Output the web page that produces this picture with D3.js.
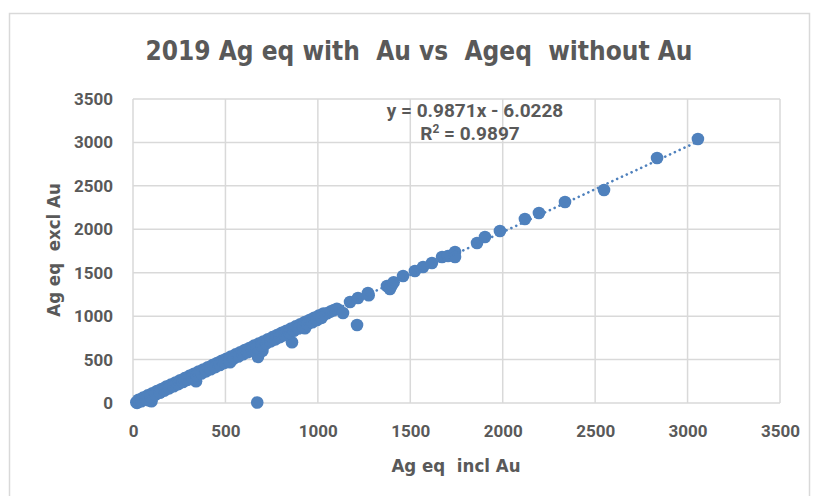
<!DOCTYPE html>
<html>
<head>
<meta charset="utf-8">
<script src="https://cdn.jsdelivr.net/npm/d3@7"></script>
<style>
  html, body { margin: 0; padding: 0; background: #fff; }
  svg { display: block; }
  text { fill: #595959; font-family: "DejaVu Sans Condensed", Roboto, sans-serif; }
</style>
</head>
<body>
<script>
// Ag equivalent grades, 2019 samples: including gold (x) vs excluding gold (y)
const agInclAu = [18,22,28,35,40,45,52,58,62,68,72,78,82,88,92,98,100,85,105,110,116,120,126,130,136,140,146,150,156,160,166,172,178,184,190,196,202,208,215,222,228,235,242,250,256,262,270,276,284,290,298,305,312,320,328,334,341,345,352,360,368,375,382,390,398,405,412,420,428,435,442,450,458,465,472,480,488,495,502,510,518,525,530,538,546,555,562,570,580,590,600,610,620,632,645,658,670,676,672,682,695,700,708,720,732,745,758,770,785,798,812,826,840,855,860,870,885,900,912,928,930,945,960,975,990,1005,1020,1035,1050,1068,1085,1103,1136,1174,1212,1217,1271,1275,1374,1390,1401,1410,1461,1525,1569,1617,1672,1704,1742,1742,1861,1904,1985,2120,2196,2337,2548,2835,3056,
  30,55,80,105,130,155,180,205,230,255,280,305,330,355,380,405,430,455,480,505,530,555,580,605,630,655,680,705,730,755,780,805,830,855,880,905,930,955,980,1005,1030,
  45,70,95,120,145,170,195,220,245,270,295,320,345,370,395,420,445,470,495,520,545,570,595,620,645,670,695,720,745,770,795,820,845,870,895,920,945,970,995,1020];
const agExclAu = [8,2,20,30,25,40,48,45,60,58,70,62,80,75,90,85,20,30,100,95,112,105,122,118,132,128,142,140,150,148,162,165,172,180,185,190,198,200,210,215,222,230,236,244,250,255,264,270,276,285,290,300,305,312,322,326,250,338,345,352,360,368,374,382,390,396,404,412,420,428,432,442,450,456,464,470,480,486,492,498,508,470,520,528,536,545,552,560,570,580,590,600,610,620,632,646,660,530,5,672,684,600,696,708,720,732,745,755,772,786,800,812,826,842,700,856,872,886,896,912,860,930,945,958,975,990,1005,1020,1034,1052,1068,1085,1036,1163,898,1209,1266,1240,1347,1312,1358,1390,1462,1520,1566,1612,1681,1692,1738,1681,1842,1911,1980,2118,2187,2314,2452,2820,3039,
  38,62,88,112,138,161,188,212,236,262,286,312,336,362,386,411,436,460,486,510,535,560,585,610,634,660,684,708,734,758,783,808,832,858,882,906,932,956,982,1006,1030,
  20,45,70,94,118,143,168,192,217,241,266,290,315,339,364,388,413,437,462,487,511,536,561,585,610,635,659,684,709,733,758,782,807,832,857,881,906,930,955,980];

// Linear trend fitted to the samples
const trendSlope = 0.9871;
const trendIntercept = -6.0228;
const trendR2 = 0.9897;

const axisTicks = [0, 500, 1000, 1500, 2000, 2500, 3000, 3500];

const W = 813, H = 496;
const plot = { left: 133, right: 780, top: 99, bottom: 403 };
const blue = "#4f81bd";
const grid = "#d9d9d9";

const svg = d3.select("body").append("svg").attr("width", W).attr("height", H);

// chart frame
svg.append("rect").attr("x", 9.5).attr("y", 13.5).attr("width", 800).attr("height", 500)
  .attr("fill", "#fff").attr("stroke", "#d9d9d9").attr("stroke-width", 1.5);

const x = d3.scaleLinear().domain([0, 3500]).range([plot.left, plot.right]);
const y = d3.scaleLinear().domain([0, 3500]).range([plot.bottom, plot.top]);

// gridlines
const g = svg.append("g");
g.selectAll("line.h").data(axisTicks).join("line")
  .attr("x1", plot.left).attr("x2", plot.right)
  .attr("y1", d => y(d)).attr("y2", d => y(d))
  .attr("stroke", grid).attr("stroke-width", 1.5);
g.selectAll("line.v").data(axisTicks).join("line")
  .attr("y1", plot.top).attr("y2", plot.bottom)
  .attr("x1", d => x(d)).attr("x2", d => x(d))
  .attr("stroke", grid).attr("stroke-width", 1.5);

// axes (labels only)
const xAxis = svg.append("g").attr("transform", `translate(0,${plot.bottom})`)
  .call(d3.axisBottom(x).tickValues(axisTicks).tickSize(0).tickPadding(22).tickFormat(d3.format("d")));
const yAxis = svg.append("g").attr("transform", `translate(${plot.left},0)`)
  .call(d3.axisLeft(y).tickValues(axisTicks).tickSize(0).tickPadding(20).tickFormat(d3.format("d")));
[xAxis, yAxis].forEach(a => {
  a.select(".domain").remove();
  a.selectAll("text").attr("font-size", 17).attr("font-weight", "bold")
    .style("font-family", "Roboto, sans-serif").attr("fill", "#595959");
});

// points
const pts = agInclAu.map((v, i) => [v, agExclAu[i]]);
svg.append("g").selectAll("circle").data(pts).join("circle")
  .attr("cx", d => x(d[0])).attr("cy", d => y(d[1])).attr("r", 6.3)
  .attr("fill", blue);

// trend line across the sampled range
const xr = d3.extent(agInclAu);
svg.append("line")
  .attr("x1", x(xr[0])).attr("y1", y(trendSlope * xr[0] + trendIntercept))
  .attr("x2", x(xr[1])).attr("y2", y(trendSlope * xr[1] + trendIntercept))
  .attr("stroke", blue).attr("stroke-width", 2.6)
  .attr("stroke-linecap", "round").attr("stroke-dasharray", "0.1,5.2");

// title
svg.append("text").attr("x", 419).attr("y", 60).attr("text-anchor", "middle")
  .attr("font-size", 26).attr("font-weight", "bold")
  .text("2019 Ag eq with  Au vs  Ageq  without Au").style("white-space", "pre");

// axis titles
svg.append("text").attr("x", 456).attr("y", 472).attr("text-anchor", "middle")
  .attr("font-size", 18.5).attr("font-weight", "bold").style("white-space", "pre")
  .text("Ag eq  incl Au");
svg.append("text").attr("transform", "translate(60,250) rotate(-90)").attr("text-anchor", "middle")
  .attr("font-size", 18.5).attr("font-weight", "bold").style("white-space", "pre")
  .text("Ag eq  excl Au");

// trend equation
const eq = svg.append("text").attr("text-anchor", "middle").attr("font-size", 19)
  .attr("font-weight", "bold").style("font-family", "Roboto, sans-serif");
eq.append("tspan").attr("x", 475).attr("y", 117)
  .text(`y = ${trendSlope}x - ${Math.abs(trendIntercept)}`);
const r2 = svg.append("text").attr("text-anchor", "middle").attr("font-size", 19)
  .attr("font-weight", "bold").style("font-family", "Roboto, sans-serif")
  .attr("x", 470).attr("y", 140);
r2.append("tspan").text("R");
r2.append("tspan").attr("dy", -7).attr("font-size", 12).text("2");
r2.append("tspan").attr("dy", 7).text(` = ${trendR2}`);
</script>
</body>
</html>
